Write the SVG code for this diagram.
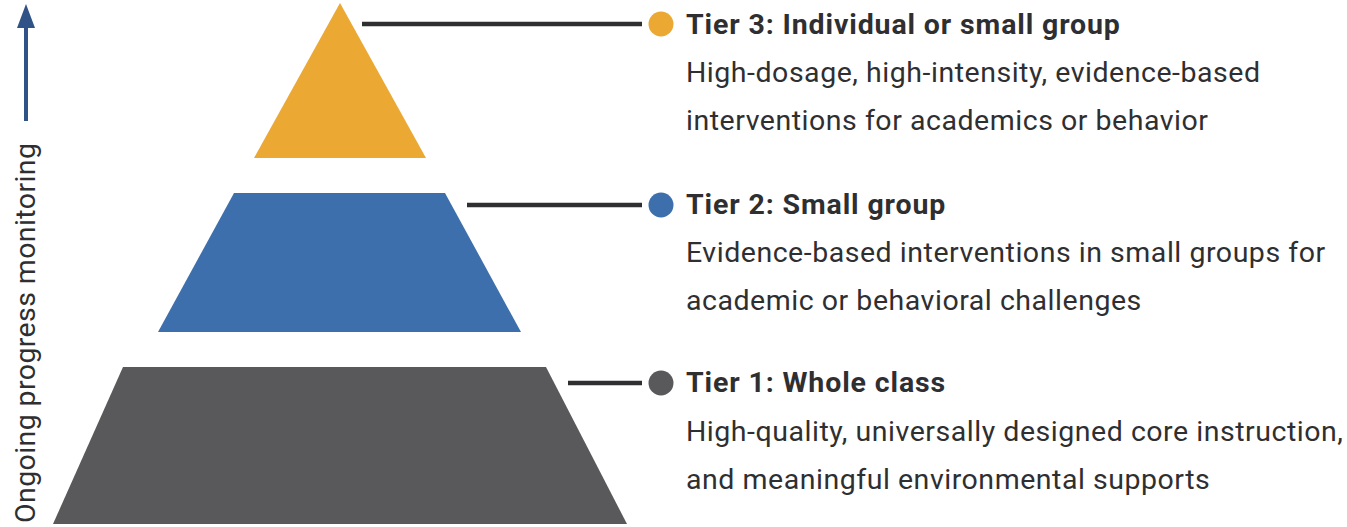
<svg xmlns="http://www.w3.org/2000/svg" width="1347" height="527" viewBox="0 0 1347 527">
  <style>
    .title { font-family: Roboto, "Liberation Sans", sans-serif; font-weight: bold; font-size: 28.5px; letter-spacing: 0.87px; fill: #2f2f31; }
    .body { font-family: Roboto, "Liberation Sans", sans-serif; font-size: 28.5px; letter-spacing: 0.53px; fill: #2f2f31; }
    .side { font-family: Roboto, "Liberation Sans", sans-serif; font-size: 28.5px; letter-spacing: 0.4px; fill: #2f2f31; }
    .leader { stroke: #2f2f31; stroke-width: 4.5; fill: none; }
  </style>
  <rect width="1347" height="527" fill="#ffffff"/>

  <!-- progress monitoring axis -->
  <g id="axis">
    <line x1="26" y1="121" x2="26" y2="26" stroke="#2f5287" stroke-width="4"/>
    <path d="M26,4 L35,28 L17,28 Z" fill="#2f5287"/>
    <text class="side" transform="translate(35,523) rotate(-90)">Ongoing progress monitoring</text>
  </g>

  <!-- pyramid tiers -->
  <g id="tier3">
    <polygon points="340,3 426,158 254,158" fill="#eba833"/>
    <circle cx="661" cy="24" r="12.5" fill="#eba833"/>
    <text class="title" x="686" y="34">Tier 3: Individual or small group</text>
    <text class="body" x="686" y="82">High-dosage, high-intensity, evidence-based</text>
    <text class="body" x="686" y="130">interventions for academics or behavior</text>
  </g>

  <g id="tier2">
    <polygon points="234,193 445,193 521,332 158,332" fill="#3d6fad"/>
    <circle cx="661" cy="205" r="12.5" fill="#3d6fad"/>
    <text class="title" x="686" y="214">Tier 2: Small group</text>
    <text class="body" x="686" y="262">Evidence-based interventions in small groups for</text>
    <text class="body" x="686" y="310">academic or behavioral challenges</text>
  </g>

  <g id="tier1">
    <polygon points="123,367 546,367 627,524 53,524" fill="#59595b"/>
    <circle cx="661" cy="383" r="12.5" fill="#59595b"/>
    <text class="title" x="686" y="392">Tier 1: Whole class</text>
    <text class="body" x="686" y="441">High-quality, universally designed core instruction,</text>
    <text class="body" x="686" y="489">and meaningful environmental supports</text>
  </g>

  <!-- leader lines -->
  <g id="connectors">
    <line class="leader" x1="362" y1="24" x2="642" y2="24"/>
    <line class="leader" x1="467" y1="205" x2="642" y2="205"/>
    <line class="leader" x1="568" y1="383" x2="642" y2="383"/>
  </g>
</svg>
